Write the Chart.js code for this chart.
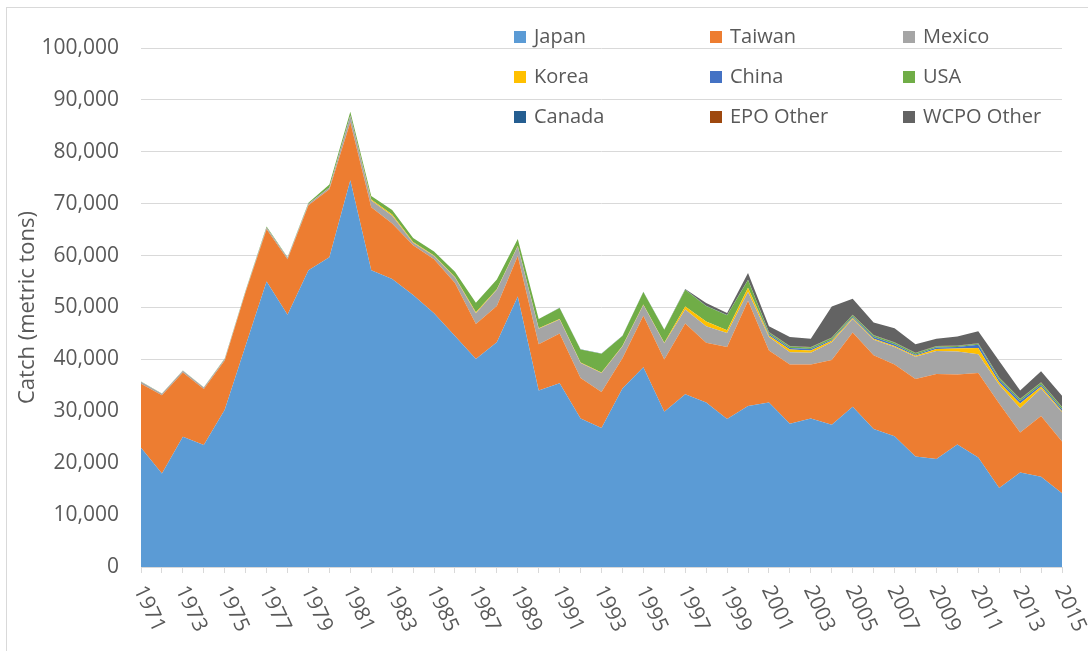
<!DOCTYPE html>
<html>
<head>
<meta charset="utf-8">
<script src="https://cdn.jsdelivr.net/npm/chart.js@4/dist/chart.umd.min.js"></script>
<style>
  html, body { margin: 0; padding: 0; background: #fff; }
  #wrap { width: 1088px; height: 651px; }
</style>
</head>
<body>
<div id="wrap"><canvas id="catch-chart" width="1088" height="651"></canvas></div>
<script>
// Years on the x axis
const years = [];
for (let y = 1971; y <= 2015; y++) years.push(String(y));

// Catch by fleet (metric tons)
const japan = [23000,18000,25100,23500,30300,42700,55000,48600,57200,59700,
  74500,57200,55500,52400,48900,44500,40100,43300,52100,34000,
  35400,28600,26800,34400,38500,29900,33300,31700,28500,31000,
  31700,27600,28600,27400,30900,26600,25200,21300,20800,23600,
  21100,15200,18200,17400,14200];
const taiwan = [12300,15100,12400,10800,9500,10300,10100,10700,12500,13100,
  11200,12100,10700,9600,10400,10200,6700,7000,7800,8900,
  9600,7800,6900,5800,9900,10100,13600,11500,13900,20300,
  10000,11400,10400,12500,14300,14200,13800,14900,16400,13500,
  16300,16300,7700,11700,10000];
const mexico = [400,300,300,300,300,200,300,300,300,300,
  1300,1300,1500,500,600,1100,2100,3100,1900,3000,
  2700,2900,3700,2300,2100,3100,2700,3200,2700,1700,
  2600,2400,2300,3400,2600,3000,3400,4300,4400,4400,
  3600,3600,4700,5300,5600];
const korea = [0,0,0,0,0,0,0,0,0,0,
  0,200,200,100,100,100,200,100,100,100,
  100,100,100,100,100,100,600,900,500,800,
  300,500,400,300,200,200,200,200,400,600,
  1200,500,900,400,200];
const china = [0,0,0,0,0,0,0,0,0,0,
  0,0,0,0,0,0,0,0,0,0,
  0,0,0,0,0,0,0,0,0,0,
  300,300,300,200,200,300,300,200,300,300,
  600,500,500,300,400];
const usa = [50,50,50,50,50,100,200,100,200,600,
  700,700,900,800,800,1000,1800,1900,1300,1800,
  2100,2500,3600,1900,2400,2500,3200,3000,2900,1500,
  300,300,300,300,300,300,300,300,200,200,
  200,300,300,400,400];
const canada = [0,0,0,0,0,0,0,0,0,0,
  0,0,0,0,0,0,0,0,0,0,
  50,50,50,50,50,50,50,50,50,50,
  50,50,50,50,50,50,50,50,50,50,
  50,50,50,50,50];
const epoOther = [0,0,0,0,0,0,0,0,0,0,
  0,0,0,0,0,0,0,0,0,0,
  0,0,0,0,0,0,0,0,0,0,
  50,50,50,50,50,50,50,50,50,50,
  50,50,50,50,50];
const wcpoOther = [0,0,0,0,0,0,0,0,0,0,
  0,0,0,0,0,0,0,0,0,0,
  0,0,0,0,0,0,100,500,400,1300,
  1100,1700,1600,6000,3100,2400,2700,1600,1400,1700,
  2300,3200,1600,2100,2100];

const seriesNames = ['Japan','Taiwan','Mexico','Korea','China','USA','Canada','EPO Other','WCPO Other'];
const seriesData = [japan, taiwan, mexico, korea, china, usa, canada, epoOther, wcpoOther];
const seriesColors = ['#5B9BD5','#ED7D31','#A5A5A5','#FFC000','#4472C4','#70AD47','#255E91','#9E480E','#636363'];

const FONT = '"Open Sans", "DejaVu Sans", sans-serif';
const TEXT = '#595959';

// border round the whole chart, like the Excel frame
const framePlugin = {
  id: 'frame',
  beforeDraw(chart) {
    const c = chart.ctx;
    c.save();
    c.strokeStyle = '#d9d9d9';
    c.lineWidth = 1;
    c.strokeRect(6.5, 7.5, 2000, 2000);
    c.restore();
  }
};

// x labels every other year, turned clockwise
const yearLabels = {
  id: 'yearLabels',
  afterDraw(chart) {
    const c = chart.ctx;
    const xs = chart.scales.x;
    c.save();
    c.font = '21px ' + FONT;
    c.fillStyle = TEXT;
    c.textAlign = 'left';
    c.textBaseline = 'middle';
    for (let i = 0; i < years.length; i += 2) {
      const x = xs.getPixelForTick(i);
      c.save();
      c.translate(x - 2, chart.chartArea.bottom + 20);
      c.rotate(65 * Math.PI / 180);
      c.fillText(years[i], 0, 0);
      c.restore();
    }
    c.restore();
  }
};

// legend in 3 columns over the top of the plot
const gridLegend = {
  id: 'gridLegend',
  afterDraw(chart) {
    const c = chart.ctx;
    const colX = [514, 710, 903];
    const rowY = [37, 77, 117];
    c.save();
    c.font = '20px ' + FONT;
    c.textBaseline = 'middle';
    c.textAlign = 'left';
    seriesNames.forEach((name, i) => {
      const x = colX[i % 3];
      const y = rowY[Math.floor(i / 3)];
      c.fillStyle = seriesColors[i];
      c.fillRect(x, y - 6, 12, 12);
      c.fillStyle = TEXT;
      c.fillText(name, x + 20, y);
    });
    c.restore();
  }
};

const datasets = seriesNames.map((name, i) => ({
  label: name,
  data: seriesData[i],
  backgroundColor: seriesColors[i],
  borderColor: seriesColors[i],
  borderWidth: 0,
  pointRadius: 0,
  pointHoverRadius: 0,
  tension: 0,
  fill: i === 0 ? 'origin' : '-1'
}));

const ctx = document.getElementById('catch-chart').getContext('2d');
new Chart(ctx, {
  type: 'line',
  data: { labels: years, datasets: datasets },
  options: {
    responsive: false,
    animation: false,
    events: [],
    layout: { padding: { left: 10, right: 26, top: 48, bottom: 0 } },
    plugins: {
      legend: { display: false },
      tooltip: { enabled: false },
      filler: { propagate: false }
    },
    scales: {
      x: {
        type: 'category',
        offset: false,
        grid: {
          drawOnChartArea: false,
          drawTicks: true,
          tickLength: 6,
          color: '#d9d9d9'
        },
        border: { display: true, color: '#d9d9d9', width: 1 },
        ticks: { display: false, autoSkip: false },
        afterFit(scale) { scale.height = 84; }
      },
      y: {
        stacked: true,
        min: 0,
        max: 100000,
        grid: { color: '#d9d9d9', lineWidth: 1, drawTicks: false },
        border: { display: false },
        ticks: {
          stepSize: 10000,
          padding: 22,
          color: TEXT,
          font: { family: FONT, size: 21 },
          callback: v => v.toLocaleString('en-US')
        },
        title: {
          display: true,
          text: 'Catch (metric tons)',
          color: TEXT,
          font: { family: FONT, size: 22 },
          padding: { top: 5, bottom: 0 }
        },
        afterFit(scale) { scale.width = 131; }
      }
    }
  },
  plugins: [framePlugin, yearLabels, gridLegend]
});
</script>
</body>
</html>
